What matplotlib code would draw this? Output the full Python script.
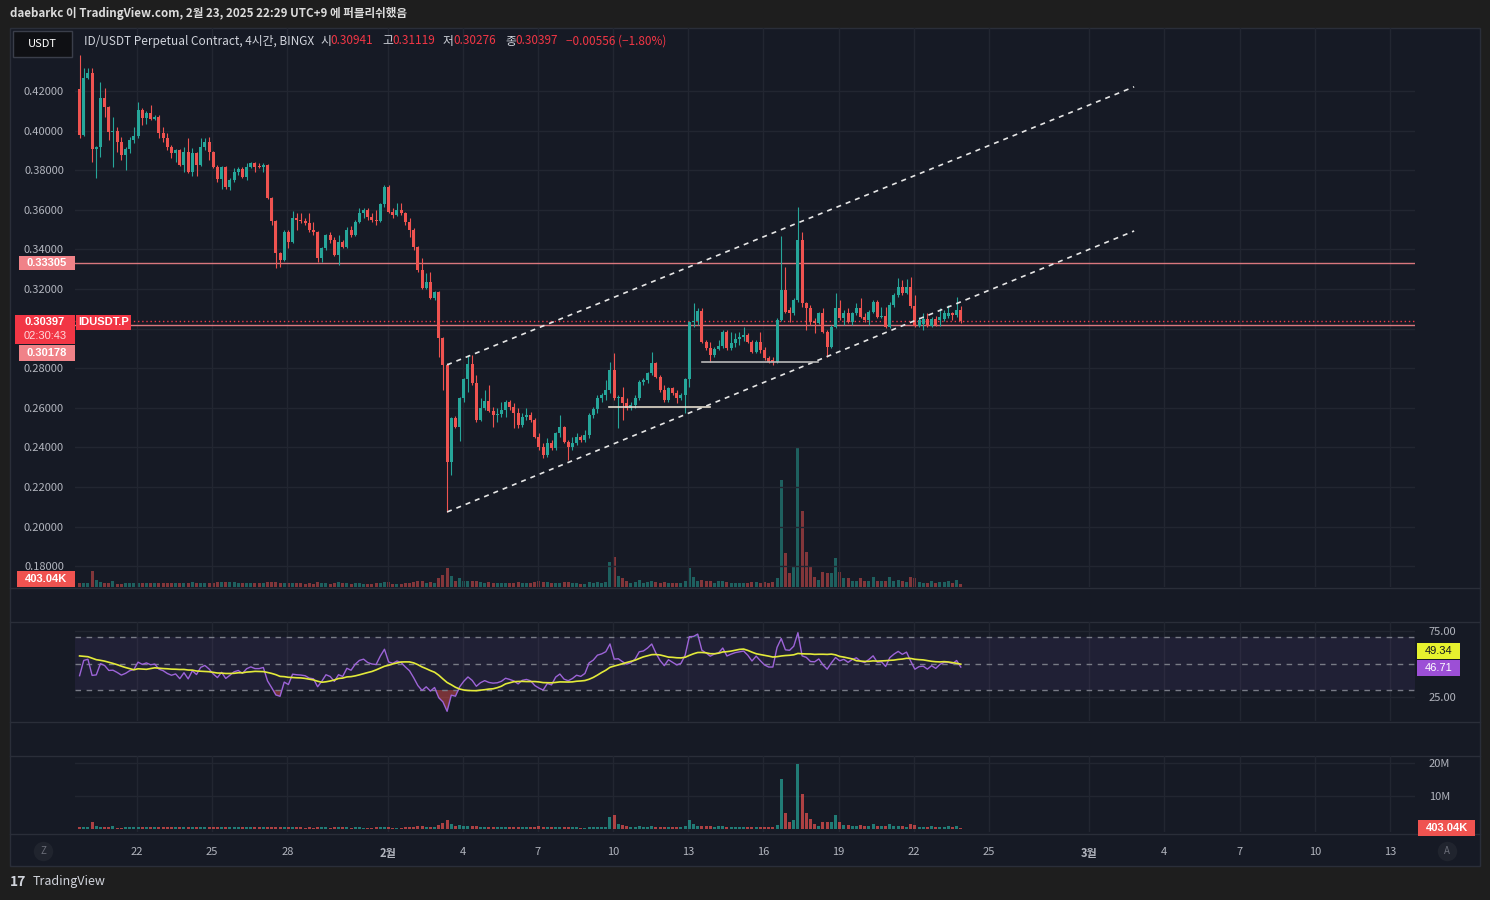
import numpy as np
import pandas as pd
import matplotlib
matplotlib.use("Agg")
import matplotlib.pyplot as plt
import matplotlib.dates as mdates
from matplotlib.patches import Rectangle
from matplotlib.lines import Line2D

plt.rcParams['font.family'] = ['Noto Sans CJK KR', 'DejaVu Sans']

# ---- IDUSDT.P 4h candles ----
first_candle = '2025-01-19 17:00'

opens = [
    .4210, .3978, .4266, .4291, .3907, .3917, .4165, .4119, .3993, .3998,
    .3943, .3877, .3907, .3953, .3973, .4104, .4064, .4089, .4059, .4069,
    .3988, .3963, .3917, .3887, .3902, .3826, .3892, .3791, .3887, .3826,
    .3917, .3943, .3892, .3816, .3756, .3816, .3715, .3751, .3791, .3806,
    .3766, .3816, .3836, .3821, .3816, .3826, .3660, .3544, .3382, .3347,
    .3488, .3438, .3559, .3549, .3544, .3534, .3498, .3488, .3357, .3408,
    .3473, .3448, .3372, .3438, .3413, .3498, .3473, .3539, .3584, .3599,
    .3564, .3549, .3544, .3630, .3715, .3589, .3574, .3599, .3584, .3539,
    .3498, .3413, .3296, .3205, .3236, .3155, .3185, .2953, .2817, .2327,
    .2549, .2504, .2650, .2746, .2822, .2726, .2539, .2600, .2635, .2584,
    .2564, .2569, .2589, .2630, .2605, .2574, .2514, .2554, .2564, .2539,
    .2453, .2403, .2362, .2423, .2398, .2473, .2504, .2428, .2403, .2423,
    .2453, .2438, .2463, .2564, .2594, .2650, .2665, .2690, .2791, .2650,
    .2655, .2625, .2600, .2615, .2650, .2731, .2741, .2776, .2827, .2756,
    .2690, .2640, .2700, .2675, .2650, .2665, .2746, .3034, .3039, .3089,
    .2933, .2903, .2867, .2897, .2913, .2983, .2903, .2928, .2948, .2958,
    .2968, .2933, .2882, .2933, .2892, .2852, .2842, .2832, .3044, .3195,
    .3095, .3079, .3145, .3448, .3130, .3105, .3039, .3029, .3079, .2983,
    .2908, .3009, .3105, .3054, .3079, .3034, .3079, .3105, .3059, .3044,
    .3084, .3135, .3059, .3064, .3009, .3120, .3170, .3210, .3180, .3210,
    .3115, .3014, .3024, .3049, .3014, .3049, .3044, .3049, .3064, .3079,
    .3069, .30941,
]
highs = [
    .4383, .4316, .4316, .4316, .3920, .4246, .4215, .4122, .4069, .4018,
    .3968, .3917, .3968, .4018, .4145, .4114, .4099, .4130, .4079, .4079,
    .4018, .3988, .3927, .3905, .3907, .3917, .3963, .3912, .3892, .3963,
    .3963, .3968, .3895, .3826, .3819, .3820, .3761, .3811, .3816, .3816,
    .3836, .3842, .3842, .3836, .3836, .3831, .3665, .3549, .3387, .3498,
    .3498, .3594, .3584, .3584, .3559, .3584, .3539, .3493, .3413, .3478,
    .3488, .3463, .3473, .3448, .3513, .3519, .3549, .3610, .3610, .3610,
    .3584, .3599, .3635, .3726, .3726, .3610, .3635, .3635, .3589, .3559,
    .3509, .3418, .3357, .3281, .3286, .3190, .3190, .2960, .2827, .2554,
    .2559, .2655, .2751, .2867, .2867, .2766, .2650, .2690, .2716, .2605,
    .2600, .2630, .2640, .2640, .2625, .2600, .2574, .2600, .2579, .2549,
    .2473, .2423, .2448, .2438, .2478, .2564, .2509, .2438, .2453, .2473,
    .2463, .2488, .2574, .2605, .2665, .2675, .2741, .2832, .2877, .2665,
    .2705, .2650, .2630, .2665, .2741, .2751, .2781, .2882, .2832, .2766,
    .2716, .2705, .2705, .2690, .2675, .2751, .3040, .3130, .3105, .3105,
    .2943, .2933, .2908, .2943, .2993, .2993, .2983, .2978, .2983, .3009,
    .2978, .2943, .2943, .2983, .2908, .2862, .2857, .3054, .3468, .3311,
    .3110, .3155, .3614, .3488, .3135, .3120, .3054, .3084, .3105, .2993,
    .3019, .3180, .3145, .3094, .3105, .3084, .3130, .3155, .3079, .3094,
    .3145, .3145, .3110, .3110, .3135, .3180, .3256, .3246, .3251, .3261,
    .3170, .3059, .3079, .3079, .3059, .3064, .3105, .3094, .3120, .3084,
    .3160, .31119,
]
lows = [
    .3963, .3975, .4258, .3842, .3761, .3867, .4069, .3953, .3816, .3892,
    .3852, .3801, .3887, .3938, .3965, .4029, .4034, .4055, .4054, .3963,
    .3943, .3902, .3862, .3842, .3822, .3791, .3786, .3771, .3771, .3822,
    .3902, .3852, .3812, .3741, .3705, .3705, .3700, .3741, .3776, .3761,
    .3751, .3811, .3791, .3811, .3791, .3655, .3524, .3306, .3311, .3342,
    .3408, .3433, .3498, .3534, .3524, .3488, .3473, .3337, .3337, .3397,
    .3433, .3367, .3322, .3408, .3408, .3463, .3468, .3534, .3559, .3549,
    .3539, .3524, .3539, .3614, .3584, .3559, .3569, .3574, .3524, .3463,
    .3397, .3286, .3200, .3200, .3150, .3145, .2857, .2690, .2074, .2261,
    .2499, .2433, .2630, .2680, .2716, .2529, .2534, .2589, .2579, .2504,
    .2529, .2554, .2554, .2589, .2499, .2499, .2504, .2539, .2529, .2448,
    .2387, .2347, .2352, .2387, .2387, .2453, .2423, .2337, .2387, .2413,
    .2428, .2428, .2448, .2549, .2574, .2630, .2640, .2675, .2640, .2499,
    .2539, .2589, .2589, .2600, .2640, .2716, .2726, .2766, .2751, .2680,
    .2630, .2630, .2665, .2625, .2640, .2574, .2705, .3009, .3019, .2928,
    .2892, .2832, .2857, .2892, .2903, .2892, .2892, .2908, .2918, .2938,
    .2928, .2877, .2877, .2877, .2842, .2827, .2817, .2827, .3039, .3079,
    .3034, .3069, .3135, .3110, .2993, .3019, .2978, .3024, .2978, .2857,
    .2903, .3004, .3044, .3019, .3029, .3019, .3069, .3054, .3034, .3019,
    .3079, .3054, .3054, .3004, .3004, .3110, .3160, .3170, .3175, .3105,
    .3009, .3009, .2993, .3009, .3009, .3014, .3014, .3039, .3054, .3044,
    .3059, .30276,
]
closes = [
    .3978, .4266, .4291, .3907, .3917, .4165, .4119, .3993, .3998, .3943,
    .3877, .3907, .3953, .3973, .4104, .4064, .4089, .4059, .4069, .3988,
    .3963, .3917, .3887, .3902, .3826, .3892, .3791, .3887, .3826, .3917,
    .3943, .3892, .3816, .3756, .3816, .3715, .3751, .3791, .3806, .3766,
    .3816, .3836, .3816, .3816, .3826, .3660, .3544, .3382, .3347, .3488,
    .3438, .3559, .3549, .3544, .3534, .3498, .3488, .3357, .3408, .3473,
    .3448, .3372, .3438, .3413, .3498, .3473, .3539, .3584, .3599, .3564,
    .3549, .3544, .3630, .3715, .3589, .3574, .3599, .3584, .3539, .3498,
    .3413, .3296, .3205, .3236, .3155, .3185, .2953, .2817, .2327, .2549,
    .2504, .2650, .2746, .2822, .2726, .2539, .2600, .2635, .2584, .2564,
    .2569, .2589, .2630, .2605, .2574, .2514, .2554, .2564, .2539, .2453,
    .2403, .2362, .2423, .2398, .2473, .2504, .2428, .2403, .2423, .2453,
    .2438, .2463, .2564, .2594, .2650, .2665, .2690, .2791, .2650, .2655,
    .2625, .2600, .2615, .2650, .2731, .2741, .2776, .2827, .2756, .2690,
    .2640, .2700, .2675, .2650, .2665, .2746, .3034, .3039, .3089, .2933,
    .2903, .2867, .2897, .2913, .2983, .2903, .2928, .2948, .2958, .2968,
    .2933, .2882, .2933, .2892, .2852, .2832, .2832, .3044, .3195, .3084,
    .3079, .3145, .3448, .3130, .3105, .3034, .3029, .3079, .2983, .2908,
    .3009, .3105, .3054, .3079, .3034, .3079, .3105, .3059, .3044, .3084,
    .3135, .3059, .3064, .3009, .3120, .3170, .3210, .3180, .3210, .3115,
    .3014, .3044, .3049, .3014, .3049, .3019, .3059, .3079, .3079, .3069,
    .30953, .30397,
]
# volume in millions
volumes = [
    0.6, 0.6, 0.5, 2.2, 1.0, 0.75, 0.6, 0.6, 0.85, 0.4,
    0.4, 0.5, 0.5, 0.6, 0.6, 0.5, 0.5, 0.6, 0.5, 0.5,
    0.5, 0.5, 0.5, 0.5, 0.6, 0.6, 0.5, 0.75, 0.6, 0.5,
    0.5, 0.5, 0.5, 0.75, 0.65, 0.65, 0.75, 0.75, 0.5, 0.5,
    0.5, 0.5, 0.5, 0.6, 0.6, 0.75, 0.75, 0.75, 0.6, 0.6,
    0.5, 0.5, 0.5, 0.5, 0.45, 0.5, 0.45, 0.7, 0.55, 0.5,
    0.45, 0.55, 0.7, 0.5, 0.55, 0.45, 0.5, 0.6, 0.45, 0.45,
    0.45, 0.5, 0.55, 0.75, 0.7, 0.45, 0.45, 0.4, 0.5, 0.6,
    0.7, 0.9, 0.8, 0.6, 0.7, 0.5, 1.3, 1.7, 2.7, 1.5,
    0.9, 1.3, 0.9, 0.9, 0.8, 0.9, 0.7, 0.6, 0.7, 0.6,
    0.5, 0.5, 0.6, 0.5, 0.6, 0.7, 0.6, 0.5, 0.5, 0.7,
    0.8, 0.7, 0.7, 0.5, 0.6, 0.6, 0.7, 0.7, 0.5, 0.5,
    0.4, 0.45, 0.7, 0.55, 0.7, 0.5, 0.7, 3.5, 4.2, 1.6,
    1.3, 0.9, 0.6, 0.7, 1.0, 0.6, 0.7, 0.9, 0.7, 0.6,
    0.7, 0.6, 0.5, 0.6, 0.5, 0.8, 2.7, 1.4, 0.8, 1.0,
    0.8, 0.8, 0.6, 0.9, 0.8, 0.7, 0.6, 0.6, 0.5, 0.6,
    0.6, 0.7, 0.7, 0.6, 0.7, 0.6, 0.7, 1.3, 15.0, 4.8,
    2.0, 2.8, 19.7, 10.7, 4.9, 3.0, 1.4, 1.0, 2.1, 2.0,
    2.0, 4.1, 2.1, 1.2, 1.3, 0.8, 0.8, 1.3, 0.8, 0.8,
    1.4, 0.8, 0.8, 0.8, 1.4, 0.9, 1.0, 0.8, 0.7, 1.4,
    1.2, 0.7, 0.6, 0.6, 0.8, 0.6, 0.7, 0.7, 0.8, 0.6,
    1.0, 0.40304,
]

level_line = 0.33305
mark_price = 0.30178
countdown = '02:30:43'
rsi_label = 46.71
rsi_ma_label = 49.34

# drawings: (time, price) end points
channel_upper = [('2025-02-03 09:00', 0.2817), ('2025-03-02 19:00', 0.4221)]
channel_lower = [('2025-02-03 09:00', 0.2074), ('2025-03-02 19:00', 0.3493)]
support_1 = [('2025-02-09 20:00', 0.2606), ('2025-02-13 21:00', 0.2606)]
support_2 = [('2025-02-13 13:00', 0.2830), ('2025-02-18 04:00', 0.2830)]

price_ticks = [0.18, 0.20, 0.22, 0.24, 0.26, 0.28, 0.30, 0.32, 0.34, 0.36, 0.38, 0.40, 0.42]
# 0.30000 sits under the live price tags, so it is not printed
price_labels = ['0.18000', '0.20000', '0.22000', '0.24000', '0.26000', '0.28000', '',
                '0.32000', '0.34000', '0.36000', '0.38000', '0.40000', '0.42000']
tick_dates = ['2025-01-22', '2025-01-25', '2025-01-28', '2025-02-01', '2025-02-04',
              '2025-02-07', '2025-02-10', '2025-02-13', '2025-02-16', '2025-02-19',
              '2025-02-22', '2025-02-25', '2025-03-01', '2025-03-04', '2025-03-07',
              '2025-03-10', '2025-03-13']
tick_labels = ['22', '25', '28', '2월', '4', '7', '10', '13', '16', '19', '22', '25',
               '3월', '4', '7', '10', '13']

# RSI(14) state before the first visible candle
rsi_seed_gain = 0.004
rsi_seed_loss = 0.004
rsi_prior = 57.0

# ---- styling ----
W, H = 1490, 900
BG_OUT = '#1e1e1e'
BG = '#161a25'
GRID = '#222631'
SEP = '#2a2e39'
TXT = '#b2b5be'
UP = '#26a69a'
DN = '#ef5350'
RED = '#f23645'
PINK = '#f08288'
TAGFONT = ['Liberation Sans', 'DejaVu Sans']

o = np.array(opens); h = np.array(highs); l = np.array(lows); c = np.array(closes)
vol = np.array(volumes)
times = pd.date_range(first_candle, periods=len(c), freq='4h')
x = mdates.date2num(times)
up = c >= o
cols = np.where(up, UP, DN)
bw = 0.12  # body width in days

xlim = (mdates.date2num(pd.Timestamp('2025-01-19 12:37')),
        mdates.date2num(pd.Timestamp('2025-03-14 00:00')))
xt = mdates.date2num(pd.to_datetime(tick_dates))


def frac(x0, y0, x1, y1):
    return [x0 / W, 1 - y1 / H, (x1 - x0) / W, (y1 - y0) / H]


fig = plt.figure(figsize=(W / 100, H / 100), dpi=100, facecolor=BG_OUT)

# chart frame
fig.add_artist(Rectangle((10 / W, 1 - 866 / H), 1470 / W, 838 / H, transform=fig.transFigure,
                         facecolor=BG, edgecolor=SEP, lw=1, zorder=-10))
for yy in [587.5, 621.5, 721.5, 755.5, 833.5]:
    fig.add_artist(Line2D([10 / W, 1480 / W], [1 - yy / H] * 2, color=SEP, lw=1,
                          transform=fig.transFigure, zorder=-9))


def clean(a):
    a.set_facecolor('none')
    for s in a.spines.values():
        s.set_visible(False)
    a.set_xlim(*xlim)
    a.set_xticks(xt)
    a.tick_params(axis='x', length=0, labelbottom=False)
    a.grid(True, color=GRID, lw=1)
    a.set_axisbelow(True)


# ---- main price pane ----
ax = fig.add_axes(frac(75, 28, 1415, 587))
clean(ax)
ax.set_ylim(0.1695, 0.4518)
ax.set_yticks(price_ticks)
ax.set_yticklabels(price_labels)
ax.tick_params(axis='y', length=0, pad=8, labelsize=8, labelcolor=TXT)

axv = ax.twinx()
axv.set_ylim(0, 78.7)
axv.set_yticks([])
for s in axv.spines.values():
    s.set_visible(False)
axv.patch.set_visible(False)
axv.bar(x, vol, width=bw, color=cols, alpha=0.5, lw=0)
axv.set_zorder(1)
ax.set_zorder(2)

ax.vlines(x, l, h, colors=cols, lw=0.8, zorder=3)
ax.bar(x, np.maximum(np.abs(c - o), 0.0003), bottom=np.minimum(o, c), width=bw,
       color=cols, lw=0, zorder=4)

ax.axhline(level_line, color=PINK, lw=1, alpha=0.9, zorder=2)
ax.axhline(mark_price, color=PINK, lw=1, alpha=0.9, zorder=2)
ax.axhline(c[-1], color=RED, lw=1, ls=(0, (1, 2)), zorder=2)

for seg, col, ls in [(channel_upper, '#e6e6e6', (0, (3, 3))),
                     (channel_lower, '#e6e6e6', (0, (3, 3))),
                     (support_1, '#e3dccd', '-'),
                     (support_2, '#b9b9b9', '-')]:
    sx = mdates.date2num(pd.to_datetime([p[0] for p in seg]))
    ax.plot(sx, [p[1] for p in seg], color=col, lw=1.2, ls=ls, zorder=5)

# ---- RSI pane ----
diff = np.diff(np.r_[o[0], c])
ag, al = rsi_seed_gain, rsi_seed_loss
rsi = []
for d in diff:
    ag = (ag * 13 + max(d, 0)) / 14
    al = (al * 13 + max(-d, 0)) / 14
    rsi.append(100 - 100 / (1 + ag / al))
rsi = np.array(rsi)
rsi_ma = pd.Series(np.r_[[rsi_prior] * 13, rsi]).rolling(14).mean().to_numpy()[13:]

axr = fig.add_axes(frac(75, 622, 1415, 721))
clean(axr)
axr.set_ylim(6.5, 81.6)
axr.set_yticks([25, 75])
axr.set_yticklabels(['25.00', '75.00'])
axr.yaxis.tick_right()
axr.tick_params(axis='y', length=0, pad=10, labelsize=8, labelcolor=TXT)
axr.axhspan(30, 70, color='#7e57c2', alpha=0.1, lw=0)
for lv in [30, 50, 70]:
    axr.axhline(lv, color='#787b86', lw=1, ls=(0, (4, 4)))
axr.fill_between(x, rsi, 30, where=rsi < 30, interpolate=True, color=DN, alpha=0.45, lw=0)
axr.fill_between(x, rsi, 70, where=rsi > 70, interpolate=True, color=UP, alpha=0.35, lw=0)
axr.plot(x, rsi, color='#9d64d8', lw=1)
axr.plot(x, rsi_ma, color='#e3ea3a', lw=1.2)

# ---- volume pane ----
axb = fig.add_axes(frac(75, 756, 1415, 832))
clean(axb)
axb.set_ylim(-0.9, 22.1)
axb.set_yticks([10, 20])
axb.set_yticklabels(['10M', '20M'])
axb.yaxis.tick_right()
axb.tick_params(axis='y', length=0, pad=10, labelsize=8, labelcolor=TXT)
axb.bar(x, vol, width=bw, color=cols, alpha=0.7, lw=0)
axb.tick_params(axis='x', labelbottom=True, pad=11, labelsize=8, labelcolor=TXT)
axb.set_xticklabels(tick_labels)
for t in axb.get_xticklabels():
    if '월' in t.get_text():
        t.set_fontweight('bold')


# ---- tags and text ----
def ypix(a, xv, yv):
    return H - a.transData.transform((xv, yv))[1]


def box(x0, x1, y0, y1, bg, z=20, ec='none'):
    fig.add_artist(Rectangle((x0 / W, 1 - y1 / H), (x1 - x0) / W, (y1 - y0) / H,
                             transform=fig.transFigure, facecolor=bg, edgecolor=ec,
                             lw=1, zorder=z))


def put(xp, yp, s, color='white', size=8, weight='bold', ha='center', z=21, family=None):
    kw = {} if family is None else {'family': family}
    fig.text(xp / W, 1 - yp / H, s, ha=ha, va='center', color=color, fontsize=size,
             fontweight=weight, zorder=z, **kw)


yl = ypix(ax, x[-1], level_line)
box(19, 75, yl - 7, yl + 7, PINK)
put(47, yl, f'{level_line:.5f}', family=TAGFONT)

yc = ypix(ax, x[-1], c[-1])
box(15, 75, yc - 6, yc + 23, RED)
put(45, yc + 1.5, f'{c[-1]:.5f}', family=TAGFONT)
put(45, yc + 15.5, countdown, color='#ffd9dc', weight='normal', family=TAGFONT)
box(76, 131, yc - 6, yc + 9, RED)
put(103.5, yc + 1.5, 'IDUSDT.P', family=TAGFONT)
box(19, 75, yc + 24, yc + 40, PINK)
put(47, yc + 32, f'{mark_price:.5f}', family=TAGFONT)

box(17, 75, 571, 587, DN)
put(46, 579, f'{vol[-1] * 1000:.2f}K', family=TAGFONT)

yb = ypix(axb, x[-1], vol[-1])
box(1418, 1475, yb - 8, yb + 8, DN)
put(1446.5, yb, f'{vol[-1] * 1000:.2f}K', family=TAGFONT)

yr = ypix(axr, x[-1], rsi_label)
box(1417, 1460, yr - 8, yr + 8, '#9c4fd6')
put(1438.5, yr, f'{rsi_label:.2f}', weight='normal', family=TAGFONT)
box(1417, 1460, yr - 25, yr - 9, '#e6f22e')
put(1438.5, yr - 17, f'{rsi_ma_label:.2f}', color='#131722', weight='normal', family=TAGFONT)

# header
put(10, 14, 'daebarkc 이 TradingView.com, 2월 23, 2025 22:29 UTC+9 에 퍼블리쉬했음',
    color='#dcdcdc', size=8.35, ha='left')
box(13, 72, 31, 57, '#0f1014', ec='#3a3e4a')
put(42.5, 44, 'USDT', size=8, weight='normal')
chg = c[-1] - c[-2]
pieces = [(84, 'ID/USDT Perpetual Contract, 4시간, BINGX', '#d1d4dc'),
          (320, '시', '#d1d4dc'), (330, f'{o[-1]:.5f}', RED),
          (382, '고', '#d1d4dc'), (392, f'{h[-1]:.5f}', RED),
          (443, '저', '#d1d4dc'), (453, f'{l[-1]:.5f}', RED),
          (505, '종', '#d1d4dc'), (515, f'{c[-1]:.5f}', RED),
          (566, f'\u2212{abs(chg):.5f} (\u2212{abs(chg) / c[-2] * 100:.2f}%)', RED)]
for xp, s, col in pieces:
    put(xp, 41, s, color=col, size=8.5, weight='normal', ha='left')

# corner buttons
for xp, s in [(43, 'Z'), (1447, 'A')]:
    fig.add_artist(Line2D([xp / W], [1 - 851 / H], marker='o', ms=14, color='#20242e',
                          mec='none', transform=fig.transFigure, zorder=20))
    put(xp, 851, s, color='#6a6d78', size=7, weight='normal')

# footer logo
put(10, 882, '17', color='#d1d4dc', size=10, weight='heavy', ha='left')
put(33, 882, 'TradingView', color='#d1d4dc', size=9, weight='normal', ha='left')

fig.savefig('out.png', dpi=100, facecolor=BG_OUT)
